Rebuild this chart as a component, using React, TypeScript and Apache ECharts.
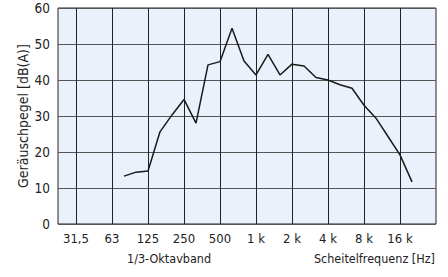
import React, { useEffect, useRef } from "react";
import * as echarts from "echarts";

const octaveLabels = ["31,5", "63", "125", "250", "500", "1 k", "2 k", "4 k", "8 k", "16 k"];
const octaveFreqs = [31.5, 63, 125, 250, 500, 1000, 2000, 4000, 8000, 16000];
const bandFreqs = [80, 100, 125, 160, 200, 250, 315, 400, 500, 630, 800, 1000, 1250, 1600, 2000, 2500, 3150, 4000, 5000, 6300, 8000, 10000, 12500, 16000, 20000];
const levels = [13.3, 14.4, 14.7, 25.6, 30.3, 34.6, 28.0, 44.2, 45.1, 54.4, 45.3, 41.4, 47.1, 41.4, 44.4, 43.9, 40.7, 40.0, 38.7, 37.7, 33.0, 29.4, 24.3, 19.2, 11.7];
const yTicks = [0, 10, 20, 30, 40, 50, 60];

const FONT = "'DejaVu Sans Condensed', 'Liberation Sans Narrow', 'Roboto', sans-serif";
const thirdIndex = (f: number) => Math.round(3 * Math.log2(f / 31.5));

export default function App() {
  const ref = useRef<HTMLDivElement>(null);
  useEffect(() => {
    if (!ref.current) return;
    const chart = echarts.init(ref.current, undefined, { renderer: "svg" });
    chart.setOption({
      animation: false,
      grid: {
        left: 58,
        top: 8,
        right: 12,
        bottom: 53,
        show: true,
        backgroundColor: "#ebf1fa",
        borderColor: "#222",
        borderWidth: 1,
      },
      xAxis: {
        type: "value",
        min: -1.5,
        max: 30,
        axisLabel: { show: false },
        axisTick: { show: false },
        axisLine: { show: false },
        splitLine: { show: false },
      },
      yAxis: {
        type: "value",
        min: yTicks[0],
        max: yTicks[yTicks.length - 1],
        interval: 10,
        name: "Geräuschpegel [dB(A)]",
        nameLocation: "middle",
        nameGap: 28,
        nameMoveOverlap: false,
        nameTextStyle: { fontFamily: FONT, fontSize: 14, color: "#222" },
        axisLabel: { fontFamily: FONT, fontSize: 13.5, color: "#222", margin: 8 },
        axisTick: { show: false },
        axisLine: { show: false },
        splitLine: { lineStyle: { color: "#555", width: 1 } },
      },
      graphic: [
        {
          type: "text",
          left: 127,
          top: 252,
          style: { text: "1/3-Oktavband", fontFamily: FONT, fontSize: 12.5, fill: "#222" },
        },
        {
          type: "text",
          right: 13,
          top: 252,
          style: { text: "Scheitelfrequenz [Hz]", fontFamily: FONT, fontSize: 12.5, fill: "#222" },
        },
      ],
      series: [
        {
          type: "line",
          data: bandFreqs.map((f, i) => [thirdIndex(f), levels[i]]),
          showSymbol: false,
          symbol: "none",
          lineStyle: { color: "#1a1a1a", width: 1.5 },
          z: 5,
          markLine: {
            silent: true,
            symbol: "none",
            lineStyle: { color: "#222", width: 1, type: "solid" },
            label: {
              show: true,
              position: "start",
              distance: 8,
              fontFamily: FONT,
              fontSize: 13,
              color: "#222",
              formatter: (p: any) => p.name,
            },
            data: octaveFreqs.map((f, i) => ({ name: octaveLabels[i], xAxis: thirdIndex(f) })),
          },
        },
      ],
    });
    return () => chart.dispose();
  }, []);
  return <div ref={ref} style={{ width: 448, height: 277, position: "absolute", left: 0, top: 0 }} />;
}
